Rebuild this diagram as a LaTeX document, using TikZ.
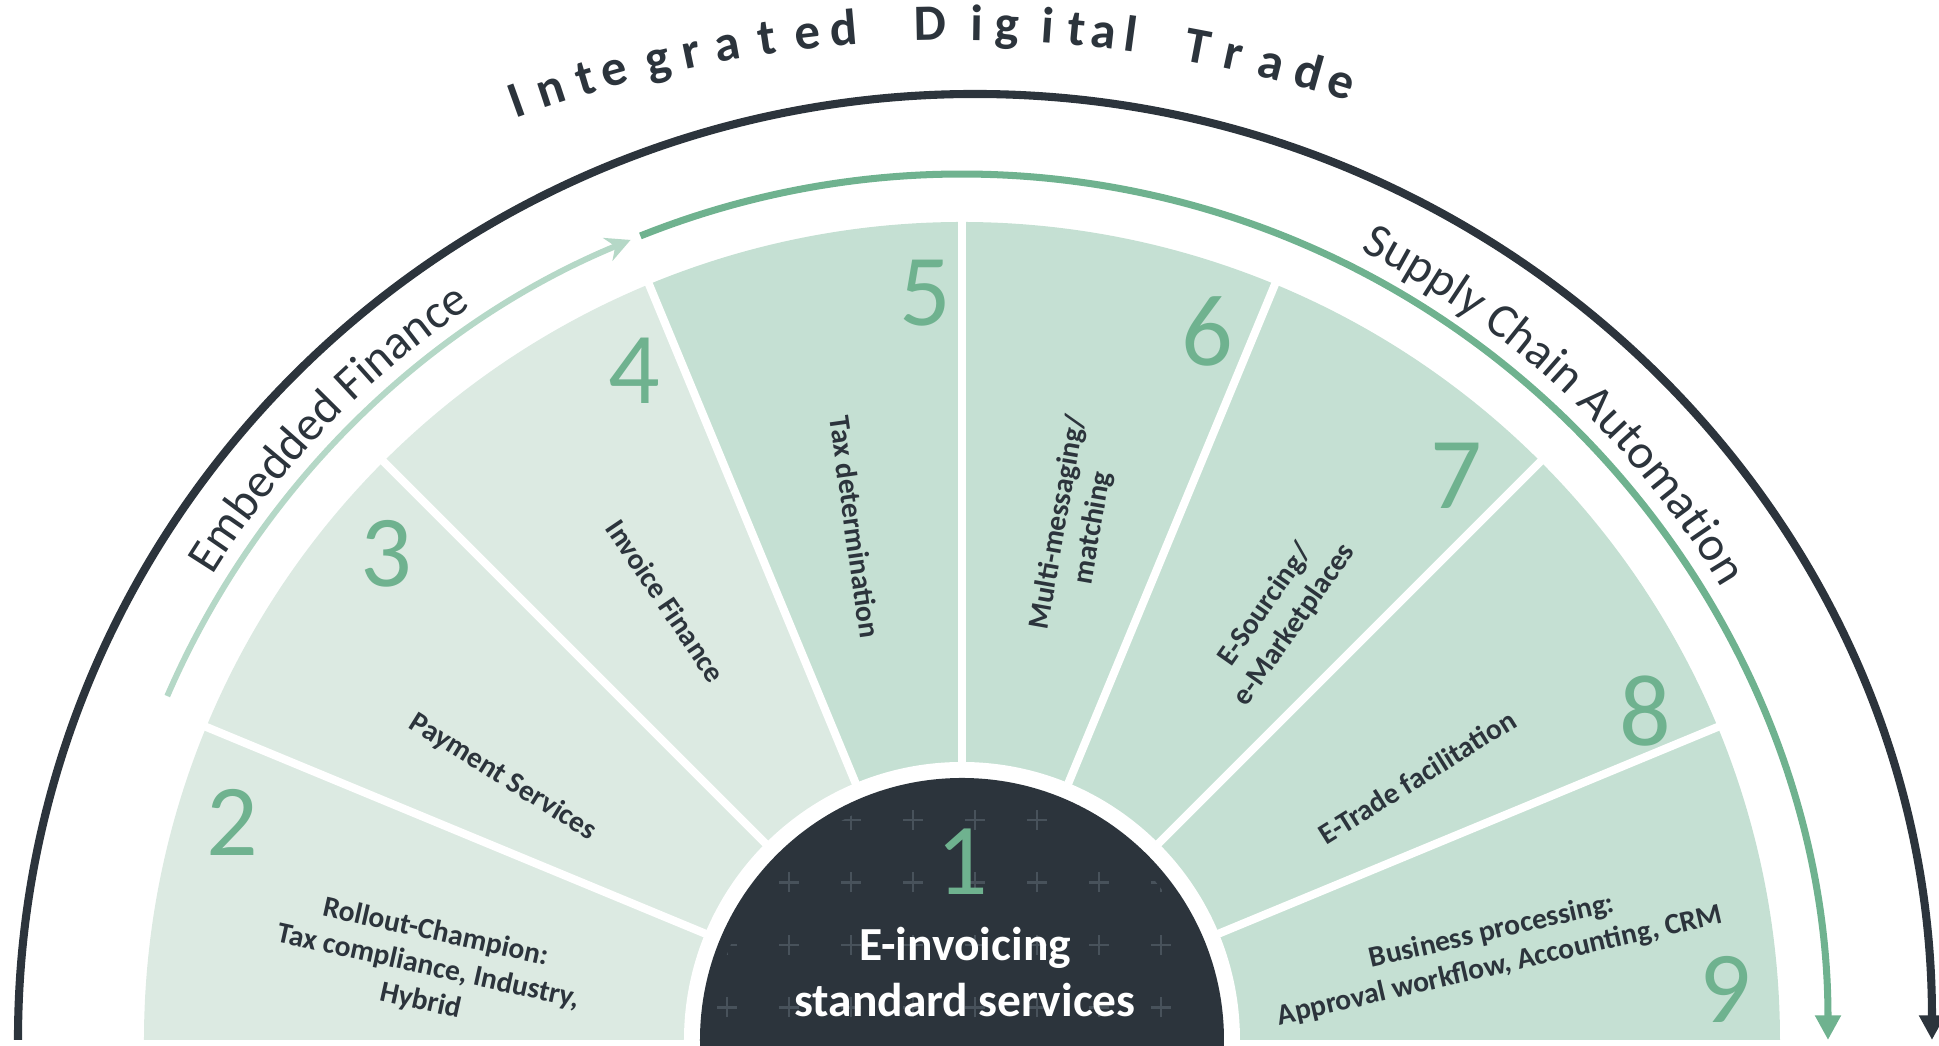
\documentclass[tikz,border=0pt]{standalone}
\usepackage{fontspec}
\setmainfont{Carlito}
\usetikzlibrary{arrows.meta,decorations.text}
\definecolor{fanlight}{HTML}{DCEAE2}
\definecolor{fandark}{HTML}{C5E0D3}
\definecolor{numgreen}{HTML}{6FB28F}
\definecolor{ink}{HTML}{2C343C}
\definecolor{crossgray}{HTML}{48525B}
\definecolor{palegreen}{HTML}{B5D8C7}
\newcommand\arcfont{\fontsize{13.8}{14}\selectfont}
\begin{document}
\begin{tikzpicture}[
    segnum/.style={text=numgreen,font=\fontsize{29}{29}\selectfont,inner sep=0pt},
    seglabel/.style={text=ink,font=\bfseries\fontsize{8.4}{10}\selectfont,align=center,inner sep=0pt},
    titlechar/.style={text=ink,font=\bfseries\fontsize{14.5}{14.5}\selectfont,inner sep=0pt,anchor=base},
    sep/.style={white,line width=2.3pt}]
\useasboundingbox (-9.62,-0.06) rectangle (9.77,10.40);
\coordinate (C) at (0,0);
\coordinate (T) at (-0.05,-2.84);
\coordinate (tradeL) at (-9.44,0);
\foreach \a/\col in {157.5/fanlight,135/fanlight,112.5/fanlight,90/fandark,67.5/fandark,45/fandark,22.5/fandark,0/fandark}
    \fill[\col] (C) -- (\a:8.18) arc[start angle=\a,delta angle=22.5,radius=8.18] -- cycle;
\foreach \a in {22.5,45,...,157.5}
    \draw[sep] (C) -- (\a:8.3);
\begin{scope}
    \clip (-9.62,-0.06) rectangle (9.77,10.40);
    \fill[white] (C) circle (2.78);
    \fill[ink] (C) circle (2.62);
    \clip (C) circle (2.5);
    \foreach \i in {-4,...,3}
        \foreach \j in {0,...,3}
            \draw[crossgray,line width=0.7pt] (0.13+0.62*\i-0.1,2.20-0.625*\j) -- ++(0.2,0) ++(-0.1,-0.1) -- ++(0,0.2);
\end{scope}
\foreach \n/\x/\y in {2/-7.30/2.18,3/-5.76/4.86,4/-3.28/6.69,5/-0.37/7.47,6/2.45/7.09,7/4.94/5.64,8/6.83/3.29,9/7.63/0.51}
    \node[segnum] (num\n) at (\x,\y) {\n};
\node[segnum] (num1) at (0,1.78) {1};
\node[text=white,font=\bfseries\fontsize{13.5}{16}\selectfont,align=center,inner sep=0pt] (core) at (0.03,0.68) {E-invoicing\\standard services};
\node[seglabel,rotate=-12.5] (lab2) at (-5.34,0.73) {Rollout-Champion:\\Tax compliance, Industry,\\Hybrid};
\node[seglabel,rotate=-32] (lab3) at (-4.59,2.63) {Payment Services};
\node[seglabel,rotate=-56] (lab4) at (-2.96,4.39) {Invoice Finance};
\node[seglabel,rotate=-82] (lab5) at (-1.07,5.13) {Tax determination};
\node[seglabel,rotate=80] (lab6) at (1.14,5.15) {Multi-messaging/\\matching};
\node[seglabel,rotate=55] (lab7) at (3.18,4.25) {E-Sourcing/\\e-Marketplaces};
\node[seglabel,rotate=32] (lab8) at (4.55,2.63) {E-Trade facilitation};
\node[seglabel,rotate=13] (lab9) at (5.34,0.91) {Business processing:\\Approval workflow, Accounting, CRM};
\draw[ink,line width=2.3pt,-{Triangle[length=7pt,width=7pt]}] (tradeL) arc[start angle=180,end angle=0,x radius=9.57,y radius=9.46];
\draw[numgreen,line width=2pt,-{Triangle[length=7pt,width=7pt]}] (111.8:8.66) arc[start angle=111.8,end angle=0,radius=8.66];
\draw[palegreen,line width=1.7pt,-{Stealth[length=7pt,width=7pt]}] (156.6:8.66) arc[start angle=156.6,end angle=112.5,radius=8.66];
\path[decorate,decoration={text along path,text={|\arcfont|Embedded Finance},text align=center,text color=ink}] (161:8.82) arc[start angle=161,end angle=111,radius=8.82];
\path[decorate,decoration={text along path,text={|\arcfont|Supply Chain Automation},text align=center,text color=ink}] (77:8.84) arc[start angle=77,end angle=17,radius=8.84];
\foreach \c/\a [count=\k] in {I/109.8,n/108.2,t/106.6,e/105.3,g/103.3,r/101.8,a/100.2,t/98.4,e/96.6,d/95.0,D/91.2,i/89.1,g/87.8,i/86.0,t/84.7,a/83.5,l/82.3,T/79.3,r/77.7,a/76.0,d/74.3,e/72.8}
    \path (T) ++(\a:12.84) node[titlechar,rotate=\a-90] (ttl\k) {\c};
\end{tikzpicture}
\end{document}
